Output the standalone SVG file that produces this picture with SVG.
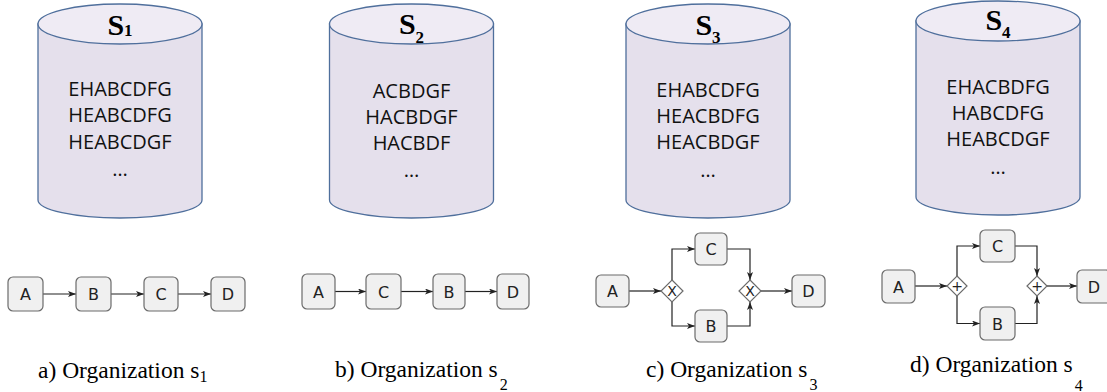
<svg xmlns="http://www.w3.org/2000/svg" width="1107" height="392" viewBox="0 0 1107 392">
<style>
.body{fill:#e5e0ec;stroke:#4f6f9c;stroke-width:1.3}
.top{fill:#efebf4;stroke:#4f6f9c;stroke-width:1.3}
.title{font-family:"Liberation Serif",serif;font-weight:bold;font-size:30px;fill:#000}
.sub{font-size:17px}
.seq{font-family:"Open Sans","Liberation Sans",sans-serif;font-size:20px;fill:#111;text-anchor:middle}
.box{fill:#f0f0f0;stroke:#6b6b6b;stroke-width:1.2}
.lbl{font-family:"DejaVu Sans","Liberation Sans",sans-serif;font-size:16px;fill:#222;text-anchor:middle}
.gw{fill:#fff;stroke:#6b6b6b;stroke-width:1.2}
.gwl{font-family:"DejaVu Sans","Liberation Sans",sans-serif;font-size:14px;fill:#222;text-anchor:middle}
.cap{font-family:"Liberation Serif","Times New Roman",serif;font-size:23.5px;fill:#000}
.capsub{font-family:"Liberation Serif","Times New Roman",serif;font-size:16px;fill:#000}
.edge{fill:none;stroke:#222;stroke-width:1.2;marker-end:url(#arr)}
</style>
<defs>
<marker id="arr" markerUnits="userSpaceOnUse" markerWidth="9" markerHeight="7" refX="8" refY="3" orient="auto">
<path d="M0,0 L8,3 L0,6 L2,3 Z" fill="#222"/>
</marker>
</defs>

<!-- Cylinders -->
<g id="store-s1">
<path class="body" d="M38,24 V200 A82,18 0 0 0 202,200 V24 Z"/>
<ellipse class="top" cx="120" cy="24" rx="82" ry="20"/>
<text class="title" x="120" y="35" text-anchor="middle">S<tspan class="sub" dy="1">1</tspan></text>
<text class="seq" x="120" y="96">EHABCDFG</text>
<text class="seq" x="120" y="122">HEABCDFG</text>
<text class="seq" x="120" y="149">HEABCDGF</text>
<text class="seq" x="120" y="176">…</text>
</g>
<g id="store-s2">
<path class="body" d="M329.5,24 V200 A82,18 0 0 0 493.5,200 V24 Z"/>
<ellipse class="top" cx="411.5" cy="24" rx="82" ry="20"/>
<text class="title" x="411.5" y="34" text-anchor="middle">S<tspan class="sub" dy="9">2</tspan></text>
<text class="seq" x="411.5" y="98">ACBDGF</text>
<text class="seq" x="411.5" y="124">HACBDGF</text>
<text class="seq" x="411.5" y="150">HACBDF</text>
<text class="seq" x="411.5" y="177">…</text>
</g>
<g id="store-s3">
<path class="body" d="M626,24 V200 A82,18 0 0 0 790,200 V24 Z"/>
<ellipse class="top" cx="708" cy="24" rx="82" ry="20"/>
<text class="title" x="708" y="35" text-anchor="middle">S<tspan class="sub" dy="8">3</tspan></text>
<text class="seq" x="708" y="97">EHABCDFG</text>
<text class="seq" x="708" y="123">HEACBDFG</text>
<text class="seq" x="708" y="149">HEACBDGF</text>
<text class="seq" x="708" y="177">…</text>
</g>
<g id="store-s4">
<path class="body" d="M916,21 V197 A82,18 0 0 0 1080,197 V21 Z"/>
<ellipse class="top" cx="998" cy="21" rx="82" ry="20"/>
<text class="title" x="998" y="30" text-anchor="middle">S<tspan class="sub" dy="8">4</tspan></text>
<text class="seq" x="998" y="94">EHACBDFG</text>
<text class="seq" x="998" y="120">HABCDFG</text>
<text class="seq" x="998" y="146">HEABCDGF</text>
<text class="seq" x="998" y="174">…</text>
</g>

<!-- Connectors -->
<g id="connectors">
<path class="edge" d="M43,294 H76"/>
<path class="edge" d="M111,294 H144"/>
<path class="edge" d="M178,294 H211"/>

<path class="edge" d="M335,291.5 H366"/>
<path class="edge" d="M401,291.5 H433"/>
<path class="edge" d="M465,291.5 H497"/>

<path class="edge" d="M629,291 H661"/>
<path class="edge" d="M672,280 V249 H695"/>
<path class="edge" d="M672,302 V326 H695"/>
<path class="edge" d="M727,249 H750 V280"/>
<path class="edge" d="M727,326 H750 V302"/>
<path class="edge" d="M761,291 H792"/>

<path class="edge" d="M915,286 H947"/>
<path class="edge" d="M957,276 V246 H980"/>
<path class="edge" d="M957,296 V323.5 H980"/>
<path class="edge" d="M1015,246 H1037 V276"/>
<path class="edge" d="M1015,323.5 H1037 V296"/>
<path class="edge" d="M1047,286 H1077"/>
</g>

<!-- a) -->
<g id="a-A"><rect class="box" x="8" y="277" width="35" height="34" rx="5"/><text class="lbl" x="25.5" y="299.5">A</text></g>
<g id="a-B"><rect class="box" x="76" y="277" width="35" height="34" rx="5"/><text class="lbl" x="93.5" y="299.5">B</text></g>
<g id="a-C"><rect class="box" x="144" y="277" width="34" height="34" rx="5"/><text class="lbl" x="161" y="299.5">C</text></g>
<g id="a-D"><rect class="box" x="211" y="277" width="34" height="34" rx="5"/><text class="lbl" x="228" y="299.5">D</text></g>
<text class="cap" x="38" y="378">a) Organization s<tspan class="capsub" dy="4">1</tspan></text>

<!-- b) -->
<g id="b-A"><rect class="box" x="302" y="274" width="33" height="35" rx="5"/><text class="lbl" x="318.5" y="297.5">A</text></g>
<g id="b-C"><rect class="box" x="366" y="274" width="35" height="35" rx="5"/><text class="lbl" x="383.5" y="297.5">C</text></g>
<g id="b-B"><rect class="box" x="433" y="274" width="32" height="35" rx="5"/><text class="lbl" x="449" y="297.5">B</text></g>
<g id="b-D"><rect class="box" x="497" y="274" width="32" height="35" rx="5"/><text class="lbl" x="513" y="297.5">D</text></g>
<text class="cap" x="335" y="377">b) Organization s<tspan class="capsub" dx="2" dy="13">2</tspan></text>

<!-- c) -->
<g id="c-A"><rect class="box" x="596" y="275" width="33" height="32" rx="5"/><text class="lbl" x="612.5" y="297">A</text></g>
<g id="c-G1"><path class="gw" d="M672,280 L683,291 L672,302 L661,291 Z"/><text class="gwl" x="672" y="296">X</text></g>
<g id="c-C"><rect class="box" x="695" y="233" width="32" height="32" rx="5"/><text class="lbl" x="711" y="255">C</text></g>
<g id="c-B"><rect class="box" x="695" y="310" width="32" height="32" rx="5"/><text class="lbl" x="711" y="332">B</text></g>
<g id="c-G2"><path class="gw" d="M750,280 L761,291 L750,302 L739,291 Z"/><text class="gwl" x="750" y="296">X</text></g>
<g id="c-D"><rect class="box" x="792" y="275" width="33" height="32" rx="5"/><text class="lbl" x="808.5" y="297">D</text></g>
<text class="cap" x="646" y="377">c) Organization s<tspan class="capsub" dx="2" dy="13">3</tspan></text>

<!-- d) -->
<g id="d-A"><rect class="box" x="882" y="270" width="33" height="33" rx="5"/><text class="lbl" x="898.5" y="292.5">A</text></g>
<g id="d-G1"><path class="gw" d="M957,276 L967,286 L957,296 L947,286 Z"/><text class="gwl" x="957" y="291">+</text></g>
<g id="d-C"><rect class="box" x="980" y="230" width="35" height="32" rx="5"/><text class="lbl" x="997.5" y="252">C</text></g>
<g id="d-B"><rect class="box" x="980" y="307" width="35" height="33" rx="5"/><text class="lbl" x="997.5" y="329.5">B</text></g>
<g id="d-G2"><path class="gw" d="M1037,276 L1047,286 L1037,296 L1027,286 Z"/><text class="gwl" x="1037" y="291">+</text></g>
<g id="d-D"><rect class="box" x="1077" y="270" width="34" height="33" rx="5"/><text class="lbl" x="1094" y="292.5">D</text></g>
<text class="cap" x="910" y="372">d) Organization s<tspan class="capsub" dx="2" dy="19">4</tspan></text>
</svg>
